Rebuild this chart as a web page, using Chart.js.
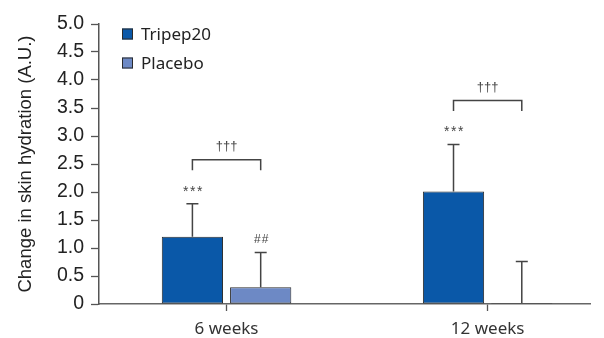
<!DOCTYPE html>
<html>
<head>
<meta charset="utf-8">
<script src="https://cdn.jsdelivr.net/npm/chart.js@4/dist/chart.umd.min.js"></script>
<style>
  html, body { margin: 0; padding: 0; background: #ffffff; }
  #wrap { width: 604px; height: 338px; position: relative; }
</style>
</head>
<body>
<div id="wrap"><canvas id="c" width="604" height="338"></canvas></div>
<script>
// Time points and group means (A.U.)
const categories = ['6 weeks', '12 weeks'];
const tripepMean = [1.20, 2.01];
const placeboMean = [0.30, 0.02];
// Upper standard deviations
const tripepSD = [0.59, 0.84];
const placeboSD = [0.62, 0.74];
// Significance marks
const tripepMarks = ['***', '***'];
const placeboMarks = ['##', ''];
const betweenMarks = ['\u2020\u2020\u2020', '\u2020\u2020\u2020'];
// Y axis tick labels
const yTickLabels = ['0', '0.5', '1.0', '1.5', '2.0', '2.5', '3.0', '3.5', '4.0', '4.5', '5.0'];

const seriesNames = ['Tripep20', 'Placebo'];
const seriesColors = ['#0a58a8', '#6d89c5'];
const edgeColor = '#2b2b2b';
const inkColor = '#444444';

const toPoints = (arr) => arr.map((v, i) => ({ x: i, y: v }));

// Error bars, comparison brackets and significance marks
const annotations = {
  id: 'annotations',
  afterDatasetsDraw(chart) {
    const ctx = chart.ctx;
    const y = chart.scales.y;
    const m0 = chart.getDatasetMeta(0).data;
    const m1 = chart.getDatasetMeta(1).data;
    ctx.save();
    ctx.strokeStyle = inkColor;
    ctx.lineWidth = 1.5;
    const errTop = (bar, mean, sd) => {
      const top = y.getPixelForValue(mean + sd);
      ctx.beginPath();
      ctx.moveTo(bar.x, bar.y);
      ctx.lineTo(bar.x, top);
      ctx.moveTo(bar.x - 6, top);
      ctx.lineTo(bar.x + 6, top);
      ctx.stroke();
      return top;
    };
    ctx.fillStyle = '#444444';
    ctx.textAlign = 'center';
    ctx.textBaseline = 'middle';
    categories.forEach((_, i) => {
      const b0 = m0[i], b1 = m1[i];
      const t0 = errTop(b0, tripepMean[i], tripepSD[i]);
      const t1 = errTop(b1, placeboMean[i], placeboSD[i]);
      ctx.font = '14px "Liberation Sans", Arial, sans-serif';
      try { ctx.letterSpacing = '1.5px'; } catch (e) {}
      if (tripepMarks[i]) ctx.fillText(tripepMarks[i], b0.x + 1, t0 - 12);
      ctx.font = '12px "Liberation Sans", Arial, sans-serif';
      try { ctx.letterSpacing = '1px'; } catch (e) {}
      if (placeboMarks[i]) ctx.fillText(placeboMarks[i], b1.x + 1, t1 - 13);
      const bTop = Math.min(t0, t1) - 44;
      ctx.beginPath();
      ctx.moveTo(b0.x, bTop + 10.5);
      ctx.lineTo(b0.x, bTop);
      ctx.lineTo(b1.x, bTop);
      ctx.lineTo(b1.x, bTop + 10.5);
      ctx.stroke();
      ctx.font = '13px "Liberation Sans", Arial, sans-serif';
      try { ctx.letterSpacing = '0px'; } catch (e) {}
      if (betweenMarks[i]) ctx.fillText(betweenMarks[i], (b0.x + b1.x) / 2, bTop - 13);
    });
    ctx.restore();
  }
};

// Legend in the upper-left of the plot
const insetLegend = {
  id: 'insetLegend',
  afterDraw(chart) {
    const ctx = chart.ctx;
    const left = chart.chartArea.left + 23;
    const top = chart.chartArea.top + 10;
    ctx.save();
    chart.data.datasets.forEach((ds, i) => {
      const cy = top + i * 29;
      ctx.fillStyle = ds.backgroundColor;
      ctx.fillRect(left, cy - 5.5, 11, 11);
      ctx.strokeStyle = edgeColor;
      ctx.lineWidth = 1;
      ctx.strokeRect(left + 0.5, cy - 5, 10, 10);
      ctx.fillStyle = '#222222';
      ctx.font = '17px "Noto Sans", sans-serif';
      ctx.textAlign = 'left';
      ctx.textBaseline = 'middle';
      ctx.fillText(ds.label, left + 19, cy + 1);
    });
    ctx.restore();
  }
};

new Chart(document.getElementById('c'), {
  type: 'bar',
  data: {
    datasets: [
      { label: seriesNames[0], data: toPoints(tripepMean), backgroundColor: seriesColors[0],
        borderColor: edgeColor, borderWidth: 1, borderSkipped: false },
      { label: seriesNames[1], data: toPoints(placeboMean), backgroundColor: seriesColors[1],
        borderColor: edgeColor, borderWidth: 1, borderSkipped: false }
    ]
  },
  options: {
    responsive: false,
    animation: false,
    events: [],
    categoryPercentage: 0.523,
    barPercentage: 0.897,
    layout: { padding: { top: 24, right: 14, bottom: 0, left: 0 } },
    plugins: {
      legend: { display: false },
      tooltip: { enabled: false }
    },
    scales: {
      x: {
        type: 'linear',
        min: -0.4885,
        max: 1.392,
        offset: false,
        afterBuildTicks(scale) { scale.ticks = categories.map((_, i) => ({ value: i })); },
        afterFit(scale) { scale.height = 34; },
        ticks: {
          callback: (v) => categories[v],
          font: { family: '"Noto Sans", sans-serif', size: 17 },
          color: '#333333',
          padding: 8,
          maxRotation: 0
        },
        grid: { display: true, offset: false, drawOnChartArea: false, drawTicks: true, tickLength: 7, tickColor: '#555555', tickWidth: 1.3 },
        border: { display: true, color: '#666666', width: 1.5 }
      },
      y: {
        min: 0,
        max: 5,
        afterBuildTicks(scale) { scale.ticks = yTickLabels.map((_, i) => ({ value: i * 0.5 })); },
        afterFit(scale) { scale.width = 99; },
        ticks: {
          callback: (v, i) => yTickLabels[i],
          font: { family: '"Liberation Sans", Arial, sans-serif', size: 19.5 },
          color: '#222222',
          padding: 7
        },
        grid: { display: true, offset: false, drawOnChartArea: false, drawTicks: true, tickLength: 8, tickColor: '#555555', tickWidth: 1.3 },
        border: { display: true, color: '#555555', width: 1.5 },
        title: {
          display: true,
          text: 'Change in skin hydration (A.U.)',
          font: { family: '"Liberation Sans", Arial, sans-serif', size: 18.5 },
          color: '#222222',
          padding: { top: 15, bottom: 0 }
        }
      }
    }
  },
  plugins: [annotations, insetLegend]
});
</script>
</body>
</html>
